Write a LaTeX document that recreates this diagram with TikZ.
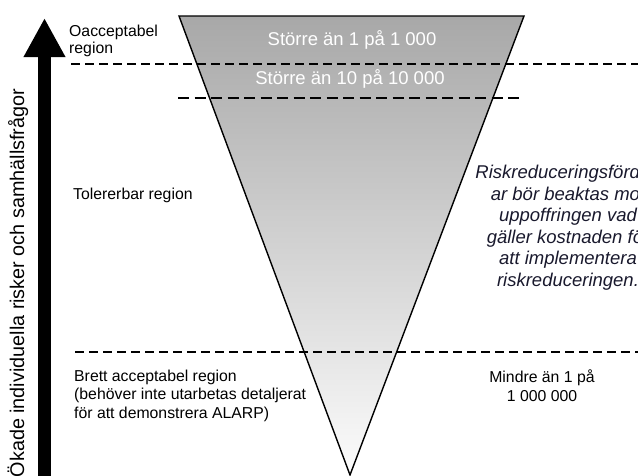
\documentclass[tikz,border=0pt]{standalone}
\usepackage{fontspec}
\setmainfont{Liberation Sans}
\usetikzlibrary{arrows.meta}
\definecolor{riskgray}{RGB}{168,168,168}
\definecolor{midgray}{RGB}{232,232,232}
\definecolor{lowgray}{RGB}{252,252,252}
\definecolor{notetext}{RGB}{25,25,45}

\begin{document}
\begin{tikzpicture}[x=1pt,y=-1pt,
  every node/.style={inner sep=0pt,font=\fontsize{15.8}{18.3}\selectfont},
  thin dash/.style={line width=1.3pt,dash pattern=on 9pt off 5pt},
  thick dash/.style={line width=2.6pt,dash pattern=on 11pt off 5.5pt}]
  \useasboundingbox (0,0) rectangle (638,475);
  \clip (0,0) rectangle (638,475);
  % risk triangle
  \coordinate (topleft) at (179,16);
  \coordinate (topright) at (524,16);
  \coordinate (apex) at (350,475);
  \shade[top color=riskgray,middle color=midgray,bottom color=lowgray]
    (topleft) -- (topright) -- (apex) -- cycle;
  \draw[line width=1.4pt] (topleft) -- (topright) -- (apex) -- cycle;
  % region borders
  \draw[thin dash] (71,64) -- (640,64);
  \draw[thick dash] (178,98) -- (522,98);
  \draw[thin dash] (75,352) -- (640,352);
  % risk axis
  \coordinate (axisfoot) at (44.5,480);
  \coordinate (axistip) at (44.5,18);
  \draw[line width=13pt,-{Triangle[width=39pt,length=39pt]}] (axisfoot) -- (axistip);
  \node[rotate=90,font=\fontsize{19.8}{24}\selectfont] (axis) at (18,283)
    {Ökade individuella risker och samhällsfrågor};
  % regions
  \node[anchor=north west,align=left,font=\fontsize{15.8}{16.5}\selectfont] (unacc) at (69,25)
    {Oacceptabel\\region};
  \node[anchor=west] (toler) at (73,195) {Tolererbar region};
  \node[anchor=north west,align=left] (broad) at (74,370)
    {Brett acceptabel region\\(behöver inte utarbetas detaljerat\\för att demonstrera ALARP)};
  % levels
  \node[anchor=base,text=white,font=\fontsize{18.5}{21.5}\selectfont] (high) at (352,45)
    {Större än 1 på 1 000};
  \node[anchor=base,text=white,font=\fontsize{18.5}{21.5}\selectfont] (mid) at (350,84)
    {Större än 10 på 10 000};
  \node[anchor=north,align=center] (low) at (542,370) {Mindre än 1 på\\1 000 000};
  \node[anchor=north,align=center,text=notetext,font=\fontsize{18.5}{21.5}\selectfont\itshape]
    (note) at (568,165)
    {Riskreduceringsfördel-\\ar bör beaktas mot\\uppoffringen vad\\gäller kostnaden för\\att implementera\\riskreduceringen.};
\end{tikzpicture}
\end{document}
